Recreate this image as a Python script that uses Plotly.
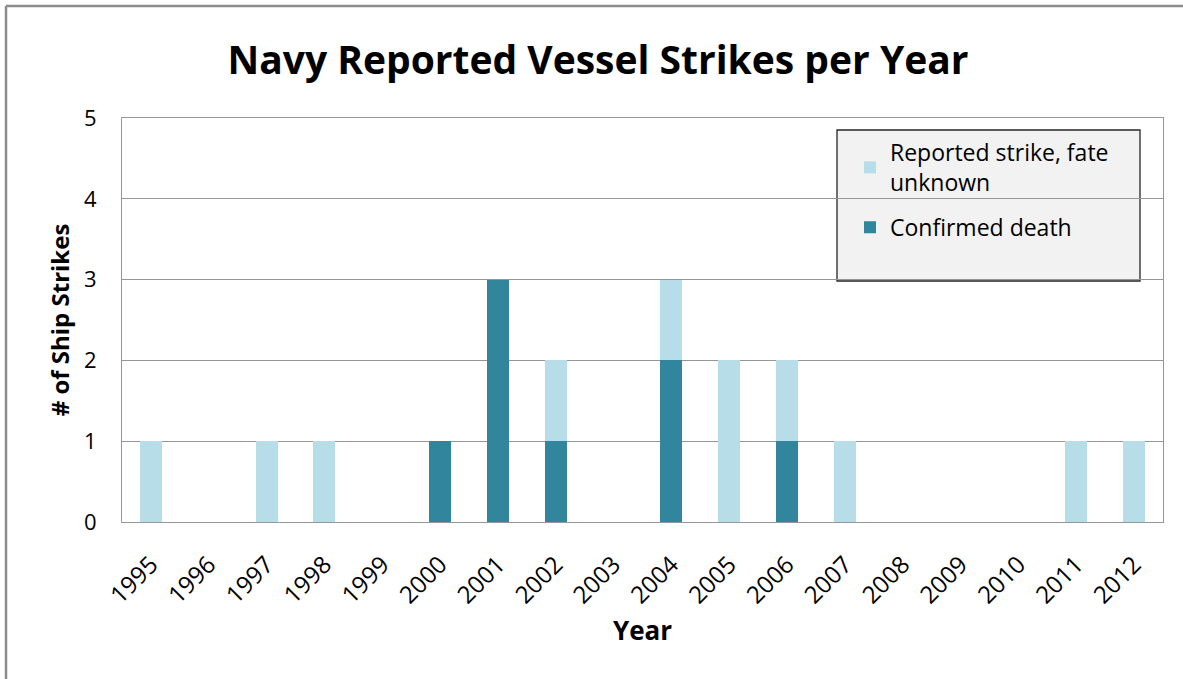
import plotly.graph_objects as go

years = [str(y) for y in range(1995, 2013)]
confirmed_death = [0, 0, 0, 0, 0, 1, 3, 1, 0, 2, 0, 1, 0, 0, 0, 0, 0, 0]
fate_unknown = [1, 0, 1, 1, 0, 0, 0, 1, 0, 1, 2, 1, 1, 0, 0, 0, 1, 1]

FONT = "Open Sans"
W, H = 1183, 679
L, R, T, B = 122, 20, 118, 157
pw, ph = W - L - R, H - T - B

def px_x(x):
    return (x - L) / pw

def px_y(y):
    return (H - B - y) / ph

fig = go.Figure()
fig.add_trace(go.Bar(x=years, y=confirmed_death, name="Confirmed death",
                     legendgroup="b", legendrank=2,
                     marker=dict(color="#31859C", line=dict(width=0))))
fig.add_trace(go.Bar(x=years, y=fate_unknown, name="Reported strike, fate<br>unknown",
                     legendgroup="a", legendrank=1,
                     marker=dict(color="#B7DDE8", line=dict(width=0))))

GRID = "#969696"
fig.update_layout(
    width=W, height=H,
    barmode="stack", bargap=0.62,
    paper_bgcolor="white", plot_bgcolor="white",
    margin=dict(l=L, r=R, t=T, b=B, autoexpand=False),
    font=dict(family=FONT, color="black", size=20),
    title=dict(text="<b>Navy Reported Vessel Strikes per Year</b>",
               x=598 / W, xanchor="center", xref="container", y=1 - 60 / H, yanchor="middle",
               font=dict(size=39, family=FONT)),
    xaxis=dict(type="category", tickangle=-45, showgrid=False, ticks="",
               showline=True, linecolor=GRID, linewidth=1, mirror=True,
               ticklabelstandoff=18,
               title=dict(text="<b>Year</b>", font=dict(size=26), standoff=12),
               tickfont=dict(size=24)),
    yaxis=dict(range=[0, 5], dtick=1, showgrid=True, gridcolor=GRID, gridwidth=1,
               showline=True, linecolor=GRID, linewidth=1, mirror=True,
               ticks="", ticklabelstandoff=20, zeroline=False,
               title=dict(text="<b># of Ship Strikes</b>", font=dict(size=24), standoff=7),
               tickfont=dict(size=22)),
    legend=dict(x=px_x(850), y=px_y(131), xanchor="left", yanchor="top",
                bgcolor="rgba(0,0,0,0)", borderwidth=0, traceorder="grouped",
                font=dict(size=23), tracegroupgap=12, itemwidth=30),
    shapes=[
        dict(type="rect", xref="paper", yref="paper",
             x0=px_x(837), x1=px_x(1140), y0=px_y(281), y1=px_y(130),
             fillcolor="#F2F2F2", line=dict(color="#262626", width=1.3), layer="below"),
        dict(type="line", xref="paper", yref="paper",
             x0=px_x(6), x1=px_x(1183), y0=px_y(6), y1=px_y(6),
             line=dict(color="#8C8C8C", width=2.5)),
        dict(type="line", xref="paper", yref="paper",
             x0=px_x(6), x1=px_x(6), y0=px_y(6), y1=px_y(679),
             line=dict(color="#8C8C8C", width=2.5)),
    ],
)
fig.write_html("out.html", config={"displayModeBar": False},
               post_script="document.body.style.margin='0px';")
